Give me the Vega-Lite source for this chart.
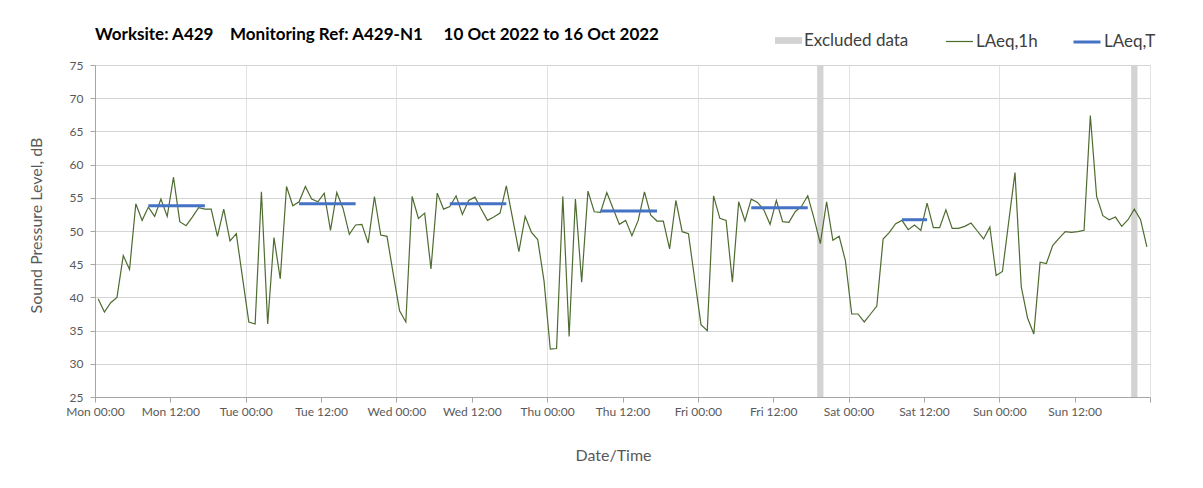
{
  "$schema": "https://vega.github.io/schema/vega-lite/v6.json",
  "width": 1055,
  "height": 332,
  "autosize": "none",
  "padding": {"left": 95, "top": 65, "right": 53, "bottom": 91},
  "background": "white",
  "title": {
    "text": "Worksite: A429\u00a0\u00a0\u00a0\u00a0Monitoring Ref: A429-N1\u00a0\u00a0\u00a0\u00a0\u00a010 Oct 2022 to 16 Oct 2022",
    "anchor": "start",
    "frame": "group",
    "font": "Lato",
    "fontSize": 17,
    "fontWeight": "bold",
    "color": "#000000",
    "baseline": "alphabetic",
    "offset": -30
  },
  "config": {
    "view": {"stroke": null},
    "font": "Lato",
    "legend": {"padding": 0, "offset": 0}
  },
  "datasets": {
    "excl": [
      {"s": "2022-10-14T19:00Z", "e": "2022-10-14T20:00Z"},
      {"s": "2022-10-16T21:00Z", "e": "2022-10-16T22:00Z"}
    ],
    "lt": [
      {"s": "2022-10-10T08:30Z", "e": "2022-10-10T17:30Z", "v": 53.8},
      {"s": "2022-10-11T08:30Z", "e": "2022-10-11T17:30Z", "v": 54.1},
      {"s": "2022-10-12T08:30Z", "e": "2022-10-12T17:30Z", "v": 54.1},
      {"s": "2022-10-13T08:30Z", "e": "2022-10-13T17:30Z", "v": 53.0},
      {"s": "2022-10-14T08:30Z", "e": "2022-10-14T17:30Z", "v": 53.5},
      {"s": "2022-10-15T08:30Z", "e": "2022-10-15T12:30Z", "v": 51.7}
    ],
    "hourly": [
      {"t": "2022-10-10T00:30Z", "v": 39.8}, {"t": "2022-10-10T01:30Z", "v": 37.8}, {"t": "2022-10-10T02:30Z", "v": 39.2}, {"t": "2022-10-10T03:30Z", "v": 40.0},
      {"t": "2022-10-10T04:30Z", "v": 46.3}, {"t": "2022-10-10T05:30Z", "v": 44.2}, {"t": "2022-10-10T06:30Z", "v": 54.1}, {"t": "2022-10-10T07:30Z", "v": 51.6},
      {"t": "2022-10-10T08:30Z", "v": 53.6}, {"t": "2022-10-10T09:30Z", "v": 52.2}, {"t": "2022-10-10T10:30Z", "v": 54.8}, {"t": "2022-10-10T11:30Z", "v": 52.2},
      {"t": "2022-10-10T12:30Z", "v": 58.1}, {"t": "2022-10-10T13:30Z", "v": 51.4}, {"t": "2022-10-10T14:30Z", "v": 50.8}, {"t": "2022-10-10T15:30Z", "v": 52.1},
      {"t": "2022-10-10T16:30Z", "v": 53.5}, {"t": "2022-10-10T17:30Z", "v": 53.3}, {"t": "2022-10-10T18:30Z", "v": 53.3}, {"t": "2022-10-10T19:30Z", "v": 49.2},
      {"t": "2022-10-10T20:30Z", "v": 53.3}, {"t": "2022-10-10T21:30Z", "v": 48.5}, {"t": "2022-10-10T22:30Z", "v": 49.6}, {"t": "2022-10-10T23:30Z", "v": 42.9},
      {"t": "2022-10-11T00:30Z", "v": 36.3}, {"t": "2022-10-11T01:30Z", "v": 36.0}, {"t": "2022-10-11T02:30Z", "v": 55.9}, {"t": "2022-10-11T03:30Z", "v": 36.0},
      {"t": "2022-10-11T04:30Z", "v": 49.0}, {"t": "2022-10-11T05:30Z", "v": 42.8}, {"t": "2022-10-11T06:30Z", "v": 56.7}, {"t": "2022-10-11T07:30Z", "v": 53.8},
      {"t": "2022-10-11T08:30Z", "v": 54.4}, {"t": "2022-10-11T09:30Z", "v": 56.7}, {"t": "2022-10-11T10:30Z", "v": 54.8}, {"t": "2022-10-11T11:30Z", "v": 54.4},
      {"t": "2022-10-11T12:30Z", "v": 55.7}, {"t": "2022-10-11T13:30Z", "v": 50.1}, {"t": "2022-10-11T14:30Z", "v": 55.8}, {"t": "2022-10-11T15:30Z", "v": 53.4},
      {"t": "2022-10-11T16:30Z", "v": 49.5}, {"t": "2022-10-11T17:30Z", "v": 50.9}, {"t": "2022-10-11T18:30Z", "v": 51.0}, {"t": "2022-10-11T19:30Z", "v": 48.2},
      {"t": "2022-10-11T20:30Z", "v": 55.2}, {"t": "2022-10-11T21:30Z", "v": 49.4}, {"t": "2022-10-11T22:30Z", "v": 49.2}, {"t": "2022-10-11T23:30Z", "v": 43.5},
      {"t": "2022-10-12T00:30Z", "v": 38.0}, {"t": "2022-10-12T01:30Z", "v": 36.3}, {"t": "2022-10-12T02:30Z", "v": 55.2}, {"t": "2022-10-12T03:30Z", "v": 51.9},
      {"t": "2022-10-12T04:30Z", "v": 52.7}, {"t": "2022-10-12T05:30Z", "v": 44.3}, {"t": "2022-10-12T06:30Z", "v": 55.7}, {"t": "2022-10-12T07:30Z", "v": 53.3},
      {"t": "2022-10-12T08:30Z", "v": 53.7}, {"t": "2022-10-12T09:30Z", "v": 55.3}, {"t": "2022-10-12T10:30Z", "v": 52.5}, {"t": "2022-10-12T11:30Z", "v": 54.6},
      {"t": "2022-10-12T12:30Z", "v": 55.1}, {"t": "2022-10-12T13:30Z", "v": 53.3}, {"t": "2022-10-12T14:30Z", "v": 51.6}, {"t": "2022-10-12T15:30Z", "v": 52.1},
      {"t": "2022-10-12T16:30Z", "v": 52.7}, {"t": "2022-10-12T17:30Z", "v": 56.8}, {"t": "2022-10-12T18:30Z", "v": 51.9}, {"t": "2022-10-12T19:30Z", "v": 46.9},
      {"t": "2022-10-12T20:30Z", "v": 52.2}, {"t": "2022-10-12T21:30Z", "v": 49.8}, {"t": "2022-10-12T22:30Z", "v": 48.7}, {"t": "2022-10-12T23:30Z", "v": 42.5},
      {"t": "2022-10-13T00:30Z", "v": 32.2}, {"t": "2022-10-13T01:30Z", "v": 32.3}, {"t": "2022-10-13T02:30Z", "v": 55.2}, {"t": "2022-10-13T03:30Z", "v": 34.1},
      {"t": "2022-10-13T04:30Z", "v": 54.8}, {"t": "2022-10-13T05:30Z", "v": 42.3}, {"t": "2022-10-13T06:30Z", "v": 56.0}, {"t": "2022-10-13T07:30Z", "v": 52.9},
      {"t": "2022-10-13T08:30Z", "v": 52.8}, {"t": "2022-10-13T09:30Z", "v": 55.8}, {"t": "2022-10-13T10:30Z", "v": 53.4}, {"t": "2022-10-13T11:30Z", "v": 51.0},
      {"t": "2022-10-13T12:30Z", "v": 51.6}, {"t": "2022-10-13T13:30Z", "v": 49.3}, {"t": "2022-10-13T14:30Z", "v": 51.6}, {"t": "2022-10-13T15:30Z", "v": 55.9},
      {"t": "2022-10-13T16:30Z", "v": 52.4}, {"t": "2022-10-13T17:30Z", "v": 51.5}, {"t": "2022-10-13T18:30Z", "v": 51.5}, {"t": "2022-10-13T19:30Z", "v": 47.3},
      {"t": "2022-10-13T20:30Z", "v": 54.6}, {"t": "2022-10-13T21:30Z", "v": 49.9}, {"t": "2022-10-13T22:30Z", "v": 49.6}, {"t": "2022-10-13T23:30Z", "v": 42.7},
      {"t": "2022-10-14T00:30Z", "v": 35.9}, {"t": "2022-10-14T01:30Z", "v": 35.0}, {"t": "2022-10-14T02:30Z", "v": 55.3}, {"t": "2022-10-14T03:30Z", "v": 51.9},
      {"t": "2022-10-14T04:30Z", "v": 51.6}, {"t": "2022-10-14T05:30Z", "v": 42.3}, {"t": "2022-10-14T06:30Z", "v": 54.4}, {"t": "2022-10-14T07:30Z", "v": 51.5},
      {"t": "2022-10-14T08:30Z", "v": 54.8}, {"t": "2022-10-14T09:30Z", "v": 54.3}, {"t": "2022-10-14T10:30Z", "v": 53.2}, {"t": "2022-10-14T11:30Z", "v": 51.0},
      {"t": "2022-10-14T12:30Z", "v": 54.6}, {"t": "2022-10-14T13:30Z", "v": 51.4}, {"t": "2022-10-14T14:30Z", "v": 51.3}, {"t": "2022-10-14T15:30Z", "v": 52.9},
      {"t": "2022-10-14T16:30Z", "v": 53.7}, {"t": "2022-10-14T17:30Z", "v": 55.3}, {"t": "2022-10-14T18:30Z", "v": 51.9}, {"t": "2022-10-14T19:30Z", "v": 48.1},
      {"t": "2022-10-14T20:30Z", "v": 54.4}, {"t": "2022-10-14T21:30Z", "v": 48.6}, {"t": "2022-10-14T22:30Z", "v": 49.2}, {"t": "2022-10-14T23:30Z", "v": 45.5},
      {"t": "2022-10-15T00:30Z", "v": 37.5}, {"t": "2022-10-15T01:30Z", "v": 37.5}, {"t": "2022-10-15T02:30Z", "v": 36.3}, {"t": "2022-10-15T03:30Z", "v": 37.5},
      {"t": "2022-10-15T04:30Z", "v": 38.7}, {"t": "2022-10-15T05:30Z", "v": 48.8}, {"t": "2022-10-15T06:30Z", "v": 49.8}, {"t": "2022-10-15T07:30Z", "v": 51.1},
      {"t": "2022-10-15T08:30Z", "v": 51.6}, {"t": "2022-10-15T09:30Z", "v": 50.2}, {"t": "2022-10-15T10:30Z", "v": 50.9}, {"t": "2022-10-15T11:30Z", "v": 50.1},
      {"t": "2022-10-15T12:30Z", "v": 54.2}, {"t": "2022-10-15T13:30Z", "v": 50.5}, {"t": "2022-10-15T14:30Z", "v": 50.5}, {"t": "2022-10-15T15:30Z", "v": 53.2},
      {"t": "2022-10-15T16:30Z", "v": 50.4}, {"t": "2022-10-15T17:30Z", "v": 50.4}, {"t": "2022-10-15T18:30Z", "v": 50.7}, {"t": "2022-10-15T19:30Z", "v": 51.2},
      {"t": "2022-10-15T20:30Z", "v": 50.0}, {"t": "2022-10-15T21:30Z", "v": 48.8}, {"t": "2022-10-15T22:30Z", "v": 50.6}, {"t": "2022-10-15T23:30Z", "v": 43.3},
      {"t": "2022-10-16T00:30Z", "v": 43.9}, {"t": "2022-10-16T01:30Z", "v": 51.4}, {"t": "2022-10-16T02:30Z", "v": 58.8}, {"t": "2022-10-16T03:30Z", "v": 41.6},
      {"t": "2022-10-16T04:30Z", "v": 36.9}, {"t": "2022-10-16T05:30Z", "v": 34.5}, {"t": "2022-10-16T06:30Z", "v": 45.3}, {"t": "2022-10-16T07:30Z", "v": 45.1},
      {"t": "2022-10-16T08:30Z", "v": 47.8}, {"t": "2022-10-16T09:30Z", "v": 48.9}, {"t": "2022-10-16T10:30Z", "v": 49.9}, {"t": "2022-10-16T11:30Z", "v": 49.8},
      {"t": "2022-10-16T12:30Z", "v": 49.9}, {"t": "2022-10-16T13:30Z", "v": 50.1}, {"t": "2022-10-16T14:30Z", "v": 67.4}, {"t": "2022-10-16T15:30Z", "v": 55.2},
      {"t": "2022-10-16T16:30Z", "v": 52.3}, {"t": "2022-10-16T17:30Z", "v": 51.7}, {"t": "2022-10-16T18:30Z", "v": 52.1}, {"t": "2022-10-16T19:30Z", "v": 50.7},
      {"t": "2022-10-16T20:30Z", "v": 51.7}, {"t": "2022-10-16T21:30Z", "v": 53.3}, {"t": "2022-10-16T22:30Z", "v": 51.7}, {"t": "2022-10-16T23:30Z", "v": 47.6}
    ]
  },
  "layer": [
    {
      "data": {"name": "excl"},
      "mark": {"type": "rect"},
      "encoding": {
        "x": {
          "field": "s", "type": "temporal", "title": "Date/Time",
          "scale": {"type": "utc", "domain": [1665360000000, 1665964800000], "nice": false},
          "axis": {
            "values": [1665360000000, 1665403200000, 1665446400000, 1665489600000, 1665532800000, 1665576000000, 1665619200000, 1665662400000, 1665705600000, 1665748800000, 1665792000000, 1665835200000, 1665878400000, 1665921600000, 1665964800000],
            "tickCount": 20,
            "labelExpr": "datum.value >= 1665964800000 ? '' : utcFormat(datum.value, '%a %H:%M')",
            "labelFont": "Lato", "labelFontSize": 12, "labelColor": "#595959", "labelPadding": 4, "labelOverlap": false, "labelFlush": false,
            "tickColor": "#a6a6a6", "tickSize": 5, "domainColor": "#a6a6a6",
            "grid": true, "gridColor": "#e2e2e2",
            "gridOpacity": {"condition": {"test": "utchours(datum.value) == 0", "value": 1}, "value": 0},
            "title": "Date/Time", "titleFont": "Lato", "titleFontSize": 16, "titleFontWeight": "normal", "titleColor": "#595959",
            "titleX": 518, "titlePadding": 30
          }
        },
        "x2": {"field": "e"},
        "fill": {
          "datum": "Excluded data",
          "scale": {"domain": ["Excluded data"], "range": ["#d3d3d3"]},
          "legend": {"title": null, "orient": "none", "legendX": 680, "legendY": -38, "symbolType": "M-1,-0.25H1V0.25H-1Z", "symbolSize": 729, "symbolStrokeWidth": 0, "labelFont": "Lato", "labelFontSize": 17, "labelColor": "#404040", "labelOffset": 2}
        }
      }
    },
    {
      "data": {"name": "hourly"},
      "mark": {"type": "line", "strokeWidth": 1.2},
      "encoding": {
        "x": {"field": "t", "type": "temporal", "title": "Date/Time"},
        "y": {
          "field": "v", "type": "quantitative", "title": "Sound Pressure Level, dB",
          "scale": {"domain": [25, 75], "nice": false, "zero": false},
          "axis": {
            "values": [25, 30, 35, 40, 45, 50, 55, 60, 65, 70, 75],
            "tickCount": 11,
            "labelFont": "Lato", "labelFontSize": 12, "labelColor": "#595959", "labelPadding": 7, "labelOverlap": false, "labelFlush": false,
            "tickColor": "#a6a6a6", "tickSize": 5, "domainColor": "#a6a6a6",
            "grid": true, "gridColor": "#d4d4d4",
            "title": "Sound Pressure Level, dB", "titleFont": "Lato", "titleFontSize": 16, "titleFontWeight": "normal", "titleColor": "#595959",
            "titleX": -59, "titleY": 160, "titleBaseline": "middle", "titleAngle": -90, "titleAlign": "center"
          }
        },
        "stroke": {
          "datum": "LAeq,1h",
          "scale": {"domain": ["LAeq,1h"], "range": ["#4e6b30"]},
          "legend": {"title": null, "orient": "none", "legendX": 850, "legendY": -38, "symbolType": "stroke", "symbolSize": 729, "symbolStrokeWidth": 1.2, "labelFont": "Lato", "labelFontSize": 17, "labelColor": "#404040", "labelOffset": 2}
        }
      }
    },
    {
      "data": {"name": "lt"},
      "mark": {"type": "rule", "strokeWidth": 3},
      "encoding": {
        "x": {"field": "s", "type": "temporal", "title": "Date/Time"},
        "x2": {"field": "e"},
        "y": {"field": "v", "type": "quantitative", "title": "Sound Pressure Level, dB"},
        "color": {
          "datum": "LAeq,T",
          "scale": {"domain": ["LAeq,T"], "range": ["#4472c4"]},
          "legend": {"title": null, "orient": "none", "legendX": 977, "legendY": -38, "symbolType": "stroke", "symbolSize": 729, "symbolStrokeWidth": 3, "labelFont": "Lato", "labelFontSize": 17, "labelColor": "#404040", "labelOffset": 2}
        }
      }
    }
  ]
}
